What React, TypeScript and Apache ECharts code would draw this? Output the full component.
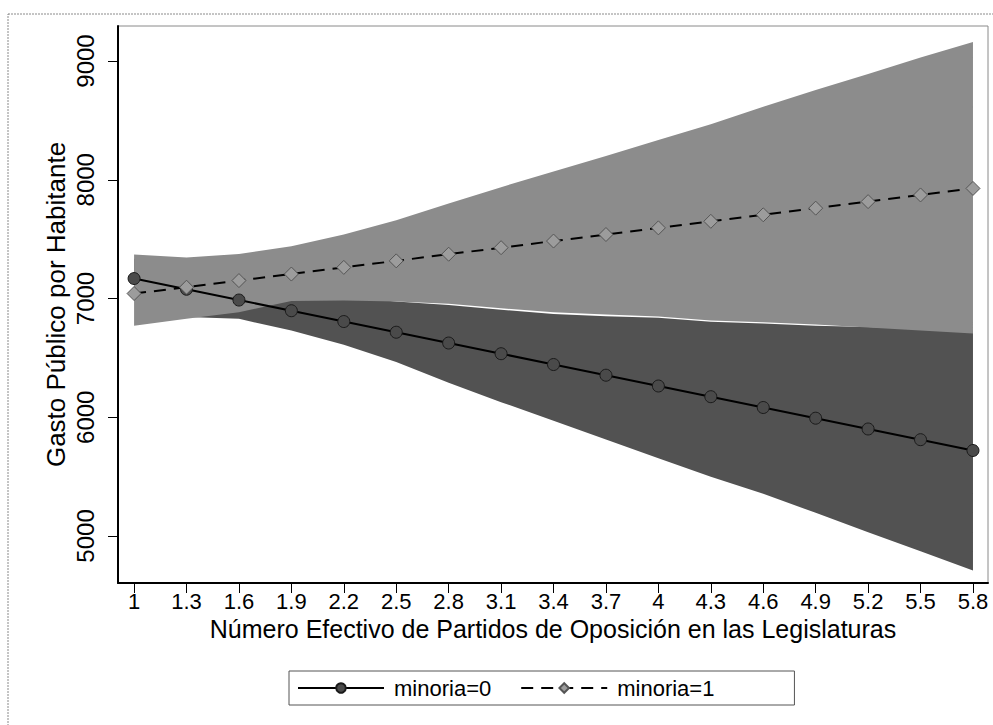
import React, { useEffect, useRef } from "react";
import * as echarts from "echarts";

const xValues = [1, 1.3, 1.6, 1.9, 2.2, 2.5, 2.8, 3.1, 3.4, 3.7, 4, 4.3, 4.6, 4.9, 5.2, 5.5, 5.8];
const xTickLabels = ["1", "1.3", "1.6", "1.9", "2.2", "2.5", "2.8", "3.1", "3.4", "3.7", "4", "4.3", "4.6", "4.9", "5.2", "5.5", "5.8"];
const yTicks = [5000, 6000, 7000, 8000, 9000];
const yTickLabels = ["5000", "6000", "7000", "8000", "9000"];

const seriesNames = ["minoria=0", "minoria=1"];

// minoria=0 prediction and confidence band
const minoria0 = [7168, 7078, 6987, 6897, 6806, 6716, 6625, 6535, 6444, 6354, 6263, 6173, 6082, 5992, 5901, 5811, 5720];
const minoria0Lower = [6990, 6845, 6829, 6730, 6610, 6465, 6290, 6127, 5970, 5812, 5655, 5498, 5355, 5195, 5032, 4872, 4709];
const minoria0Upper = [7335, 7240, 7145, 7070, 7010, 6975, 6945, 6905, 6870, 6850, 6838, 6805, 6790, 6770, 6760, 6745, 6731];

// minoria=1 prediction and confidence band
const minoria1 = [7042, 7095, 7151, 7206, 7262, 7317, 7373, 7428, 7484, 7539, 7595, 7650, 7705, 7761, 7816, 7872, 7927];
const minoria1Lower = [6770, 6830, 6885, 6978, 6984, 6974, 6955, 6918, 6885, 6865, 6848, 6815, 6800, 6781, 6755, 6730, 6705];
const minoria1Upper = [7371, 7345, 7375, 7440, 7540, 7660, 7800, 7938, 8070, 8200, 8335, 8468, 8615, 8755, 8890, 9030, 9160];

const FONT = "'Liberation Sans', Arial, Helvetica, sans-serif";

function band(name: string, lower: number[], upper: number[], color: string) {
  return {
    type: "custom",
    name,
    silent: true,
    clip: true,
    data: xValues.map((x, i) => [x, lower[i], upper[i]]),
    encode: { x: 0, y: [1, 2] },
    renderItem: (params: any, api: any) => {
      if (params.dataIndex !== 0) return null;
      const pts: number[][] = [];
      for (let i = 0; i < xValues.length; i++) pts.push(api.coord([xValues[i], upper[i]]));
      for (let i = xValues.length - 1; i >= 0; i--) pts.push(api.coord([xValues[i], lower[i]]));
      return { type: "polygon", shape: { points: pts }, style: { fill: color, stroke: null } };
    },
  };
}

function labelFor(values: number[], labels: string[]) {
  return (v: number) => {
    const i = values.findIndex((x) => Math.abs(x - v) < 1e-6);
    return i >= 0 ? labels[i] : "";
  };
}

export default function App() {
  const ref = useRef<HTMLDivElement>(null);
  useEffect(() => {
    if (!ref.current) return;
    const chart = echarts.init(ref.current, undefined, { renderer: "svg" });
    chart.setOption({
      animation: false,
      backgroundColor: "#ffffff",
      textStyle: { fontFamily: FONT },
      grid: {
        left: 118,
        right: 5,
        top: 26,
        bottom: 142,
        show: true,
        borderColor: "#8a8a8a",
        borderWidth: 1,
        backgroundColor: "#ffffff",
      },
      graphic: [
        {
          type: "rect",
          z: -10,
          shape: { x: 8, y: 14, width: 1000, height: 730 },
          style: { fill: "none", stroke: "#8a8a8a", lineWidth: 1, lineDash: [2, 1] },
        },
      ],
      legend: {
        data: seriesNames,
        left: 289,
        top: 671,
        orient: "horizontal",
        itemWidth: 86,
        itemHeight: 12,
        itemGap: 29,
        padding: [6, 80, 6, 8],
        borderColor: "#555",
        borderWidth: 1,
        textStyle: { fontSize: 22, color: "#000", fontFamily: FONT, padding: [0, 0, 0, 5] },
      },
      xAxis: {
        type: "value",
        min: 0.908,
        max: 5.886,
        name: "Número Efectivo de Partidos de Oposición en las Legislaturas",
        nameLocation: "middle",
        nameGap: 33,
        nameMoveOverlap: false,
        nameTextStyle: { fontSize: 25, color: "#000", fontFamily: FONT },
        axisLine: { show: true, onZero: false, lineStyle: { color: "#000", width: 2 } },
        axisTick: { show: true, customValues: xValues, length: 10, lineStyle: { color: "#000", width: 1 } },
        axisLabel: {
          customValues: xValues,
          formatter: labelFor(xValues, xTickLabels),
          fontSize: 22,
          color: "#000",
          margin: 7,
          fontFamily: FONT,
        },
        splitLine: { show: false },
      },
      yAxis: {
        type: "value",
        min: 4604,
        max: 9295,
        name: "Gasto Público por Habitante",
        nameLocation: "middle",
        nameGap: 49,
        nameMoveOverlap: false,
        nameTextStyle: { fontSize: 26, color: "#000", fontFamily: FONT },
        axisLine: { show: true, onZero: false, lineStyle: { color: "#000", width: 2 } },
        axisTick: { show: true, customValues: yTicks, length: 10, lineStyle: { color: "#000", width: 1 } },
        axisLabel: {
          customValues: yTicks,
          formatter: labelFor(yTicks, yTickLabels),
          rotate: 90,
          fontSize: 24,
          color: "#000",
          margin: 21,
          fontFamily: FONT,
        },
        splitLine: { show: false },
      },
      series: [
        band("band0", minoria0Lower, minoria0Upper, "#525252"),
        band("band1", minoria1Lower, minoria1Upper, "#8c8c8c"),
        {
          type: "line",
          name: seriesNames[0],
          data: xValues.map((x, i) => [x, minoria0[i]]),
          symbol: "circle",
          symbolSize: 12,
          showSymbol: true,
          lineStyle: { color: "#000", width: 2 },
          itemStyle: { color: "#4a4a4a", borderColor: "#1a1a1a", borderWidth: 1 },
        },
        {
          type: "line",
          name: seriesNames[1],
          data: xValues.map((x, i) => [x, minoria1[i]]),
          symbol: "diamond",
          symbolSize: 14,
          showSymbol: true,
          lineStyle: { color: "#000", width: 2, type: [12, 8] },
          itemStyle: { color: "#9c9c9c", borderColor: "#555", borderWidth: 1 },
        },
      ],
    });
    return () => chart.dispose();
  }, []);
  return <div ref={ref} style={{ width: 993, height: 725, position: "absolute", left: 0, top: 0 }} />;
}
